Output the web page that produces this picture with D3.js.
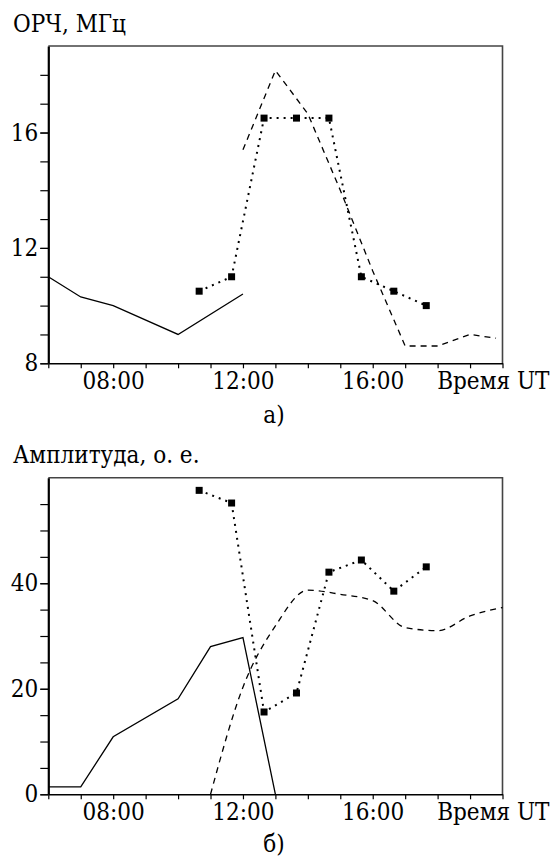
<!DOCTYPE html>
<html>

<head>
    <title>d3-plot</title>
    <script src="https://cdn.jsdelivr.net/npm/d3@7"></script>
    <style>
        body { margin: 0; background: #fff; }
    </style>
</head>

<body>

    <script>
        var SERIF = '"DejaVu Serif Condensed", "DejaVu Serif", serif';

        // common time grid (hours UT)
        var markerTimes = [10.65, 11.65, 12.65, 13.65, 14.65, 15.65, 16.65, 17.65];
        var xTickLabels = {8: '08:00', 12: '12:00', 16: '16:00', 20: 'Время UT'};

        // panel a) - ОРЧ, МГц
        var solidA_t = [6, 7, 8, 10, 12],
            solidA_v = [11.0, 10.3, 10.0, 9.0, 10.4];
        var dashA_t = [12, 13, 14, 15, 16, 17, 18, 19, 19.8],
            dashA_v = [15.4, 18.15, 16.65, 14.0, 11.2, 8.6, 8.6, 9.0, 8.87];
        var dotA_v = [10.5, 11.0, 16.5, 16.5, 16.5, 11.0, 10.5, 10.0];
        var yTicksA = [8, 12, 16];

        // panel б) - Амплитуда, о. е.
        var solidB_t = [6, 7, 8, 10, 11, 12, 13],
            solidB_v = [1.4, 1.4, 10.9, 18.1, 28.0, 29.7, 0];
        var dashB_t = [11, 12, 13, 14, 15, 16, 17, 18, 19, 20],
            dashB_v = [0, 20.3, 31.9, 38.7, 37.9, 36.7, 31.6, 31.0, 33.8, 35.4];
        var dotB_v = [57.6, 55.2, 15.6, 19.2, 42.1, 44.4, 38.5, 43.1];
        var yTicksB = [0, 20, 40];

        var width = 552,
            height = 859;

        var svg = d3.select('body')
            .append('svg')
            .attr('width', width)
            .attr('height', height)
            .style('font-family', SERIF);

        var x_scale = d3.scaleLinear()
            .domain([6, 20])
            .range([48.3, 502.5]);

        function zip(t, v) {
            return t.map(function (d, i) { return [d, v[i]]; });
        }

        function serif(sel) {
            sel.style('font-family', SERIF)
                .style('font-stretch', 'condensed')
                .attr('font-size', 24)
                .attr('fill', '#000');
        }

        function panel(p) {
            var y_scale = d3.scaleLinear()
                .domain(p.domain)
                .range([p.bottom, p.top]);

            var g = svg.append('g');

            // title
            g.append('text')
                .attr('x', 13)
                .attr('y', p.titleY)
                .text(p.title)
                .call(serif);

            // frame top + right
            g.append('path')
                .attr('d', 'M' + x_scale(6) + ',' + p.top + 'H' + x_scale(20) + 'V' + p.bottom)
                .attr('fill', 'none')
                .attr('stroke', '#444')
                .attr('stroke-width', 1.6);

            // minor y ticks
            g.append('g')
                .attr('transform', 'translate(' + x_scale(6) + ',0)')
                .call(d3.axisLeft(y_scale).tickValues(d3.range(p.domain[0], p.domain[1], p.minor)).tickSize(8).tickFormat(''))
                .call(function (a) { a.select('.domain').remove(); })
                .selectAll('line').attr('stroke-width', 1.2);

            // major y axis
            var ya = g.append('g')
                .attr('transform', 'translate(' + x_scale(6) + ',0)')
                .call(d3.axisLeft(y_scale).tickValues(p.ticks).tickSize(8).tickPadding(2).tickSizeOuter(0));
            ya.attr('font-family', null);
            ya.select('.domain').attr('stroke-width', 2.2);
            ya.selectAll('line').attr('stroke-width', 1.2);
            ya.selectAll('text').call(serif);

            // x axis
            var xa = g.append('g')
                .attr('transform', 'translate(0,' + p.bottom + ')')
                .call(d3.axisBottom(x_scale)
                    .tickValues(d3.range(6, 21, 1))
                    .tickSize(5)
                    .tickPadding(4)
                    .tickSizeOuter(0)
                    .tickFormat(function (d) { return xTickLabels[d] || ''; }));
            xa.attr('font-family', null);
            xa.select('.domain').attr('stroke-width', 1.6);
            xa.selectAll('line').attr('stroke-width', 1.2);
            xa.selectAll('text').call(serif);
            // axis caption sits against the right edge
            xa.selectAll('.tick')
                .filter(function (d) { return d === 20; })
                .select('text')
                .attr('text-anchor', 'end')
                .attr('x', 549 - x_scale(20));

            // panel letter
            g.append('text')
                .attr('x', 274)
                .attr('y', p.letterY)
                .attr('text-anchor', 'middle')
                .text(p.letter)
                .call(serif);

            var line = d3.line()
                .x(function (d) { return x_scale(d[0]); })
                .y(function (d) { return y_scale(d[1]); });

            g.append('path')
                .datum(zip(p.solid[0], p.solid[1]))
                .attr('d', line)
                .attr('fill', 'none')
                .attr('stroke', '#000')
                .attr('stroke-width', 1.3);

            g.append('path')
                .datum(zip(p.dash[0], p.dash[1]))
                .attr('d', p.smooth ? line.curve(d3.curveMonotoneX) : line)
                .attr('fill', 'none')
                .attr('stroke', '#000')
                .attr('stroke-width', 1.3)
                .attr('stroke-dasharray', '6,5');
            line.curve(d3.curveLinear);

            var dots = zip(markerTimes, p.dot);
            g.append('path')
                .datum(dots)
                .attr('d', line)
                .attr('fill', 'none')
                .attr('stroke', '#000')
                .attr('stroke-width', 2)
                .attr('stroke-dasharray', '2,5');

            g.selectAll('rect.m')
                .data(dots)
                .enter()
                .append('rect')
                .attr('class', 'm')
                .attr('x', function (d) { return x_scale(d[0]) - 3.5; })
                .attr('y', function (d) { return y_scale(d[1]) - 3.5; })
                .attr('width', 7)
                .attr('height', 7)
                .attr('fill', '#000');
        }

        panel({
            title: 'ОРЧ, МГц', titleY: 32, letter: 'а)', letterY: 423,
            top: 46, bottom: 363.3, domain: [8, 19], ticks: yTicksA, minor: 1,
            solid: [solidA_t, solidA_v], dash: [dashA_t, dashA_v], dot: dotA_v, smooth: false
        });

        panel({
            title: 'Амплитуда, о. е.', titleY: 463, letter: 'б)', letterY: 852,
            top: 477.7, bottom: 794.3, domain: [0, 60], ticks: yTicksB, minor: 5,
            solid: [solidB_t, solidB_v], dash: [dashB_t, dashB_v], dot: dotB_v, smooth: true
        });
    </script>

</body>

</html>
